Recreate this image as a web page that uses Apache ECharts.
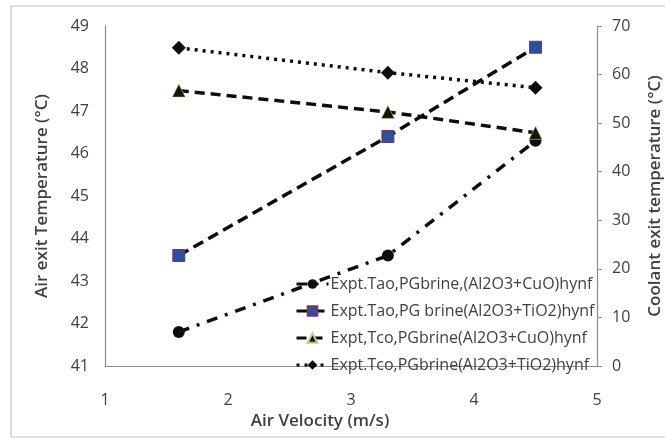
<!DOCTYPE html>
<html>
<head>
<meta charset="utf-8">
<script src="https://cdn.jsdelivr.net/npm/echarts@6/dist/echarts.min.js"></script>
<style>
  html, body { margin: 0; padding: 0; background: #fff; }
  #chart { width: 665px; height: 439px; }
</style>
</head>
<body>
<div id="chart"></div>
<script>
// Air velocity (m/s) at which each run was taken
const airVelocity = [1.6, 3.3, 4.5];

// Air exit temperature (°C), left axis
const taoCuO = [41.8, 43.6, 46.3];
const taoTiO2 = [43.6, 46.4, 48.5];

// Coolant exit temperature (°C), right axis
const tcoCuO = [56.7, 52.3, 48.0];
const tcoTiO2 = [65.5, 60.4, 57.3];

const seriesNames = [
  'Expt.Tao,PGbrine,(Al2O3+CuO)hynf',
  'Expt.Tao,PG brine(Al2O3+TiO2)hynf',
  'Expt,Tco,PGbrine(Al2O3+CuO)hynf',
  'Expt.Tco,PGbrine(Al2O3+TiO2)hynf'
];

const FONT = '"Open Sans", sans-serif';
const TEXT = '#404040';
const AXIS = '#8c8c8c';

// dash patterns shared by the plotted lines and their legend keys
const DASH = [[11, 8, 3, 8], [11, 6], [10, 6], [3, 5]];

const pairs = ys => airVelocity.map((x, i) => [x, ys[i]]);

const chart = echarts.init(document.getElementById('chart'), null, { renderer: 'canvas' });

chart.setOption({
  animation: false,
  backgroundColor: '#fff',
  textStyle: { fontFamily: FONT, color: TEXT },
  graphic: [{
    type: 'rect',
    shape: { x: 11, y: 6, width: 662, height: 431 },
    style: { fill: 'none', stroke: '#c4c4c4', lineWidth: 1.2 },
    silent: true
  }],
  grid: { left: 105, right: 68, top: 26, bottom: 73, outerBoundsMode: 'none', containLabel: false },
  xAxis: {
    type: 'value',
    min: 1, max: 5, interval: 1,
    name: 'Air Velocity (m/s)',
    nameLocation: 'middle',
    nameGap: 46,
    nameTextStyle: { fontFamily: FONT, fontSize: 17, fontWeight: 600, color: TEXT, padding: [0, 62, 0, 0] },
    axisLine: { show: true, lineStyle: { color: AXIS, width: 1.2 } },
    axisTick: { show: false },
    splitLine: { show: false },
    axisLabel: { margin: 26, fontSize: 16, color: TEXT, fontFamily: FONT }
  },
  yAxis: [{
    type: 'value',
    min: 41, max: 49, interval: 1,
    name: 'Air exit Temperature (°C)',
    nameLocation: 'middle',
    nameGap: 54,
    nameRotate: 90,
    nameTextStyle: { fontFamily: FONT, fontSize: 17, fontWeight: 600, color: TEXT },
    axisLine: { show: true, lineStyle: { color: AXIS, width: 1.2 } },
    axisTick: { show: false },
    splitLine: { show: false },
    axisLabel: { margin: 16, fontSize: 16, color: TEXT, fontFamily: FONT }
  }, {
    type: 'value',
    position: 'right',
    min: 0, max: 70, interval: 10,
    name: 'Coolant exit temperature (°C)',
    nameLocation: 'middle',
    nameGap: 50,
    nameRotate: 90,
    nameTextStyle: { fontFamily: FONT, fontSize: 17, fontWeight: 600, color: TEXT },
    axisLine: { show: true, lineStyle: { color: AXIS, width: 1.2 } },
    axisTick: { show: true, inside: false, length: 5, lineStyle: { color: AXIS } },
    splitLine: { show: false },
    axisLabel: { margin: 15, fontSize: 16, color: TEXT, fontFamily: FONT }
  }],
  legend: {
    orient: 'vertical',
    left: 290,
    top: 271,
    itemWidth: 32,
    itemHeight: 12,
    itemGap: 11,
    textStyle: { fontSize: 16, color: TEXT, fontFamily: FONT, padding: [0, 0, 0, -3] },
    data: seriesNames.map((name, i) => ({
      name,
      lineStyle: { type: DASH[i], width: 3 }
    }))
  },
  series: [{
    name: seriesNames[0],
    type: 'line',
    yAxisIndex: 0,
    data: pairs(taoCuO),
    symbol: 'circle',
    symbolSize: 12,
    itemStyle: { color: '#0d0d14' },
    lineStyle: { color: '#0d0d14', width: 3.5, type: DASH[0] }
  }, {
    name: seriesNames[1],
    type: 'line',
    yAxisIndex: 0,
    data: pairs(taoTiO2),
    symbol: 'rect',
    symbolSize: 12,
    itemStyle: { color: '#2d4f9e', borderColor: '#6e3c5c', borderWidth: 1 },
    lineStyle: { color: '#0d0d0d', width: 3.5, type: DASH[1] }
  }, {
    name: seriesNames[2],
    type: 'line',
    yAxisIndex: 1,
    data: pairs(tcoCuO),
    symbol: 'triangle',
    symbolSize: 13,
    itemStyle: { color: '#14160a', borderColor: '#c8c890', borderWidth: 0.6 },
    lineStyle: { color: '#0d0d0d', width: 3.5, type: DASH[2] }
  }, {
    name: seriesNames[3],
    type: 'line',
    yAxisIndex: 1,
    data: pairs(tcoTiO2),
    symbol: 'diamond',
    symbolSize: 14,
    itemStyle: { color: '#0d0d0d' },
    lineStyle: { color: '#0d0d0d', width: 3.5, type: DASH[3] }
  }]
});
</script>
</body>
</html>
